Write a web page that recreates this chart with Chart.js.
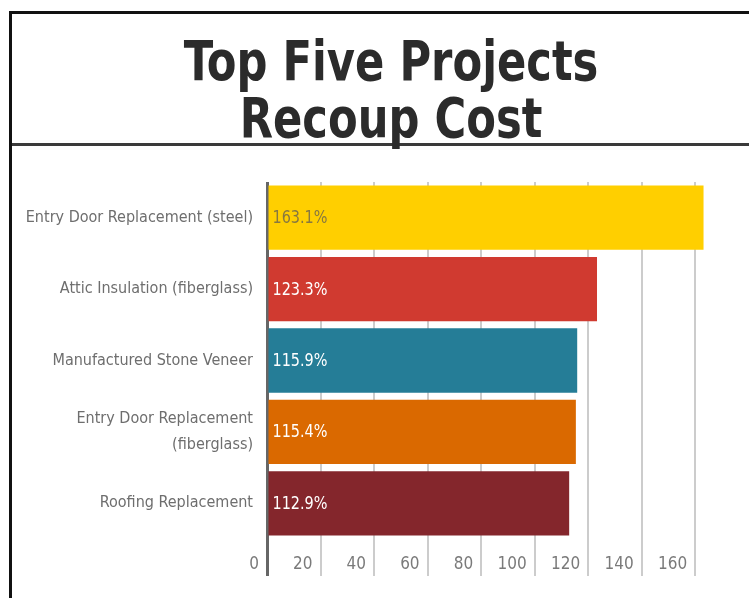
<!DOCTYPE html>
<html>
<head>
<meta charset="utf-8">
<script src="https://cdn.jsdelivr.net/npm/chart.js@4"></script>
<style>
  html, body { margin: 0; padding: 0; background: #fff; width: 749px; height: 598px; overflow: hidden; }
  #frame { position: absolute; left: 9px; top: 11px; width: 800px; height: 700px;
           border-left: 3px solid #111; border-top: 3px solid #111; box-sizing: border-box; }
  #divider { position: absolute; left: 12px; top: 143px; width: 800px; height: 3px; background: #3a3a3a; }
  #title { position: absolute; left: 0; top: 33px; width: 782px; text-align: center;
           font-family: 'DejaVu Sans Condensed', 'DejaVu Sans', sans-serif;
           font-weight: bold; font-size: 55px; line-height: 57px; color: #2b2b2b;
           transform: scaleX(0.874); transform-origin: 391px 0; }
  #chart { position: absolute; left: 12px; top: 147px; }
</style>
</head>
<body>
<div id="frame"></div>
<div id="divider"></div>
<div id="title">Top Five Projects<br>Recoup Cost</div>
<canvas id="chart" width="737" height="451"></canvas>
<script>
const categories = [
  'Entry Door Replacement (steel)',
  'Attic Insulation (fiberglass)',
  'Manufactured Stone Veneer',
  ['Entry Door Replacement', '(fiberglass)'],
  'Roofing Replacement'
];
const recoupPercent = [163.1, 123.3, 115.9, 115.4, 112.9];
const valueLabels = ['163.1%', '123.3%', '115.9%', '115.4%', '112.9%'];
const barColors = ['#FFCF00', '#D03A30', '#257D97', '#DA6900', '#84262C'];
const labelColors = ['#877840', '#ffffff', '#ffffff', '#ffffff', '#ffffff'];
const xTickValues = [0, 20, 40, 60, 80, 100, 120, 140, 160];

const FONT = "'DejaVu Sans Condensed', 'DejaVu Sans', sans-serif";

const valueLabelPlugin = {
  id: 'valueLabels',
  afterDatasetsDraw(chart) {
    const ctx = chart.ctx;
    const meta = chart.getDatasetMeta(0);
    ctx.save();
    ctx.font = '17px ' + FONT;
    ctx.textAlign = 'left';
    ctx.textBaseline = 'middle';
    meta.data.forEach((bar, i) => {
      ctx.fillStyle = labelColors[i];
      ctx.fillText(valueLabels[i], bar.base + 4, bar.y + 1, 55);
    });
    ctx.restore();
  }
};

new Chart(document.getElementById('chart'), {
  type: 'bar',
  data: {
    labels: categories,
    datasets: [{
      data: recoupPercent,
      backgroundColor: barColors,
      borderWidth: 0,
      categoryPercentage: 0.9,
      barPercentage: 1.0
    }]
  },
  options: {
    indexAxis: 'y',
    responsive: false,
    animation: false,
    devicePixelRatio: 1,
    layout: { padding: { top: 35, right: 27, left: 0, bottom: 0 } },
    plugins: { legend: { display: false }, tooltip: { enabled: false } },
    scales: {
      x: {
        min: 0, max: 170,
        afterFit(scale) { scale.height = 59; },
        afterBuildTicks(scale) { scale.ticks = xTickValues.map(v => ({ value: v })); },
        border: { display: false },
        grid: {
          drawTicks: true,
          tickLength: 37,
          color: c => (c.tick && c.tick.value === 0) ? '#666666' : '#cccccc',
          lineWidth: c => (c.tick && c.tick.value === 0) ? 3 : 2
        },
        ticks: {
          align: 'end',
          labelOffset: -8,
          padding: -22,
          color: '#7a7a7a',
          font: { family: FONT, size: 17 }
        }
      },
      y: {
        afterFit(scale) { scale.width = 255; },
        border: { display: false },
        grid: { display: false, drawTicks: false },
        ticks: {
          padding: 14,
          color: '#6e6e6e',
          font: { family: FONT, size: 16, lineHeight: 1.65 }
        }
      }
    }
  },
  plugins: [valueLabelPlugin]
});
</script>
</body>
</html>
